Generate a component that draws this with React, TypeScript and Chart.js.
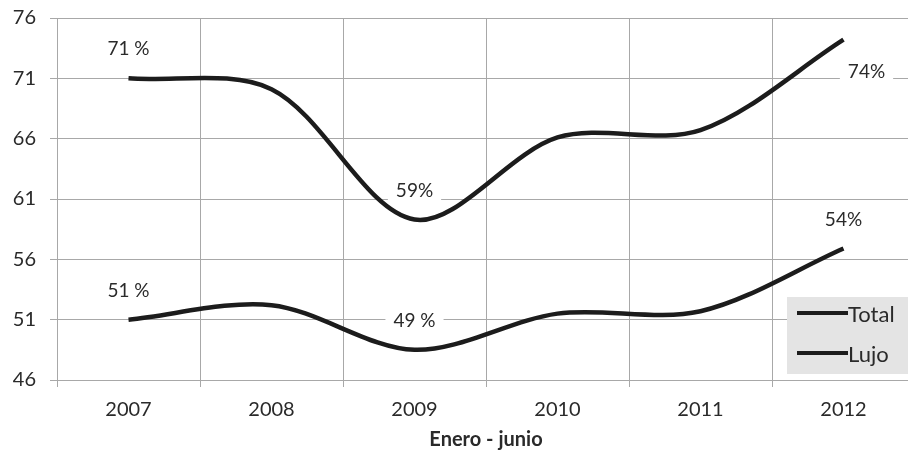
import React, { useEffect, useRef } from "react";
import { Chart, registerables } from "chart.js";

Chart.register(...registerables);

const categories = ["2007", "2008", "2009", "2010", "2011", "2012"];
const totalValues = [51, 52.2, 48.5, 51.5, 51.7, 56.9];
const lujoValues = [71, 70.1, 59.3, 66.1, 66.7, 74.2];
const totalLabels = ["51 %", "", "49 %", "", "", "54%"];
const lujoLabels = ["71 %", "", "59%", "", "", "74%"];
const seriesNames = ["Total", "Lujo"];
const yMin = 46;
const yMax = 76;
const yStep = 5;
const axisTitle = "Enero - junio";

const FONT = "Lato, 'Open Sans', sans-serif";
const TEXT = "#2a2a2a";
const LINE = "#1c1c1c";
const GRID = "#a8a8a8";

const labelPlugin = {
  id: "pctLabels",
  beforeDatasetsDraw(chart: any) {
    const ctx = chart.ctx;
    const all = [totalLabels, lujoLabels];
    ctx.save();
    ctx.font = `19px ${FONT}`;
    ctx.textAlign = "center";
    ctx.textBaseline = "middle";
    all.forEach((labels, di) => {
      const meta = chart.getDatasetMeta(di);
      labels.forEach((txt, i) => {
        if (!txt) return;
        const pt = meta.data[i];
        let x = pt.x;
        let y = pt.y - 29;
        if (di === 1 && i === labels.length - 1) {
          x = pt.x + 23;
          y = pt.y + 32;
        }
        const w = ctx.measureText(txt).width + 16;
        ctx.fillStyle = "#ffffff";
        ctx.fillRect(x - w / 2, y - 13, w, 26);
        ctx.fillStyle = TEXT;
        ctx.fillText(txt, x, y);
      });
    });
    ctx.restore();
  },
  afterDraw(chart: any) {
    const ctx = chart.ctx;
    const area = chart.chartArea;
    ctx.save();
    // legend box
    const bx = 787;
    const by = 297;
    ctx.fillStyle = "#e4e4e4";
    ctx.fillRect(bx, by, 140, 77);
    ctx.font = `22px ${FONT}`;
    ctx.textAlign = "left";
    ctx.textBaseline = "middle";
    seriesNames.forEach((name, i) => {
      const y = by + 16 + i * 40;
      ctx.strokeStyle = LINE;
      ctx.lineWidth = 4;
      ctx.beginPath();
      ctx.moveTo(bx + 10, y);
      ctx.lineTo(bx + 61, y);
      ctx.stroke();
      ctx.fillStyle = TEXT;
      ctx.fillText(name, bx + 61, y + 2);
    });
    // axis title
    ctx.font = `bold 20px ${FONT}`;
    ctx.textAlign = "center";
    ctx.fillStyle = TEXT;
    ctx.fillText(axisTitle, (area.left + area.right) / 2, 440);
    ctx.restore();
  },
};

function LineChart() {
  const ref = useRef<HTMLCanvasElement | null>(null);
  useEffect(() => {
    if (!ref.current) return;
    const chart = new Chart(ref.current, {
      type: "line",
      data: {
        labels: categories,
        datasets: [
          {
            label: seriesNames[0],
            data: totalValues,
            borderColor: LINE,
            borderWidth: 4.5,
            pointRadius: 0,
            tension: 0.32,
            fill: false,
          },
          {
            label: seriesNames[1],
            data: lujoValues,
            borderColor: LINE,
            borderWidth: 4.5,
            pointRadius: 0,
            tension: 0.32,
            fill: false,
          },
        ],
      },
      options: {
        responsive: false,
        animation: false,
        devicePixelRatio: 1,
        layout: { padding: { top: 18, right: 10, left: 0, bottom: 0 } },
        plugins: {
          legend: { display: false },
          tooltip: { enabled: false },
        },
        scales: {
          x: {
            offset: true,
            grid: {
              offset: true,
              color: GRID,
              lineWidth: 1,
              tickLength: 7,
              drawTicks: true,
            },
            border: { color: GRID, width: 1 },
            ticks: {
              color: TEXT,
              font: { family: FONT, size: 20 },
              padding: 11,
              maxRotation: 0,
            },
            afterFit: (s: any) => {
              s.height = 86;
              s.paddingLeft = 0;
              s.paddingRight = 0;
            },
          },
          y: {
            min: yMin,
            max: yMax,
            grid: { color: GRID, lineWidth: 1, tickLength: 7 },
            border: { color: GRID, width: 1 },
            ticks: {
              stepSize: yStep,
              color: TEXT,
              font: { family: FONT, size: 20 },
              padding: 14,
            },
            afterFit: (s: any) => {
              s.width = 57;
              s.paddingTop = 0;
              s.paddingBottom = 0;
            },
          },
        },
      },
      plugins: [labelPlugin],
    });
    return () => chart.destroy();
  }, []);
  return <canvas ref={ref} width={925} height={466} style={{ display: "block" }} />;
}

export default function App() {
  return (
    <div
      style={{
        position: "fixed",
        left: 0,
        top: 0,
        width: 908,
        height: 466,
        overflow: "hidden",
        background: "#ffffff",
      }}
    >
      <LineChart />
    </div>
  );
}
